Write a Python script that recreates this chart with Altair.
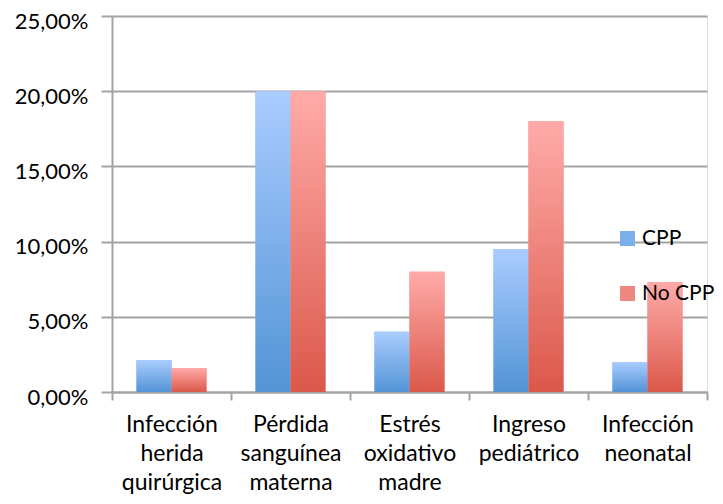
import altair as alt
import pandas as pd

categories = ["Infección|herida|quirúrgica", "Pérdida|sanguínea|materna", "Estrés|oxidativo|madre",
              "Ingreso|pediátrico", "Infección|neonatal"]
series = ["CPP", "No CPP"]
cpp = [0.0213, 0.20, 0.04, 0.095, 0.02]
no_cpp = [0.016, 0.20, 0.08, 0.18, 0.073]

rows = []
for c, a, b in zip(categories, cpp, no_cpp):
    rows.append({"cat": c, "serie": "CPP", "val": a})
    rows.append({"cat": c, "serie": "No CPP", "val": b})
df = pd.DataFrame(rows)

FONT = "Lato"
GRID = "#A3A3A3"

x_enc = alt.X("cat:N", sort=categories, title=None,
              scale=alt.Scale(paddingInner=0, paddingOuter=0),
              axis=alt.Axis(labelExpr="split(datum.label, '|')", labelAngle=0,
                            labelFontSize=23, labelFont=FONT, labelColor="black",
                            labelLineHeight=29, labelPadding=13,
                            tickBand="extent", tickSize=8, tickColor=GRID, tickWidth=2,
                            domainColor=GRID, domainWidth=2, grid=False))
xo_enc = alt.XOffset("serie:N", scale=alt.Scale(domain=series, paddingInner=0, paddingOuter=0.7))
y_enc = alt.Y("val:Q", title=None,
              scale=alt.Scale(domain=[0, 0.25], nice=False),
              axis=alt.Axis(values=[0, 0.05, 0.10, 0.15, 0.20, 0.25],
                            labelExpr="replace(format(datum.value, '.2%'), '.', ',')",
                            labelFontSize=22, labelFont=FONT, labelColor="black",
                            labelPadding=13, labelOffset=5, labelFlush=False,
                            tickSize=11, tickColor=GRID, tickWidth=2,
                            domainColor=GRID, domainWidth=2,
                            gridColor=GRID, gridWidth=2))

base = alt.Chart(df).mark_bar().encode(
    x=x_enc, xOffset=xo_enc, y=y_enc,
    color=alt.Color("serie:N", scale=alt.Scale(domain=series, range=["#7CB0EC", "#EE8780"]),
                    legend=alt.Legend(title=None, orient="none", legendX=505, legendY=212,
                                      symbolType="square", symbolSize=225, symbolStrokeWidth=0,
                                      labelFontSize=21, labelFont=FONT, labelColor="black",
                                      labelOffset=4, rowPadding=33, padding=0))
)

def grad(top, bottom):
    return alt.Gradient(gradient="linear", x1=0, x2=0, y1=0, y2=1,
                        stops=[alt.GradientStop(color=top, offset=0),
                               alt.GradientStop(color=bottom, offset=1)])

blue = alt.Chart(df).transform_filter(alt.datum.serie == "CPP").mark_bar(
    color=grad("#AACDFF", "#5293D6")).encode(x=x_enc, xOffset=xo_enc, y=y_enc)
red = alt.Chart(df).transform_filter(alt.datum.serie == "No CPP").mark_bar(
    color=grad("#FFABA9", "#DB584A")).encode(x=x_enc, xOffset=xo_enc, y=y_enc)

chart = alt.layer(base, blue, red).properties(
    width=595, height=376,
    autosize=alt.AutoSizeParams(type="none"),
    padding={"left": 104, "top": 8, "right": 8, "bottom": 104},
).configure_view(stroke=None).configure(background="white")

chart.save("out.html", embed_options={"renderer": "svg", "actions": False})
